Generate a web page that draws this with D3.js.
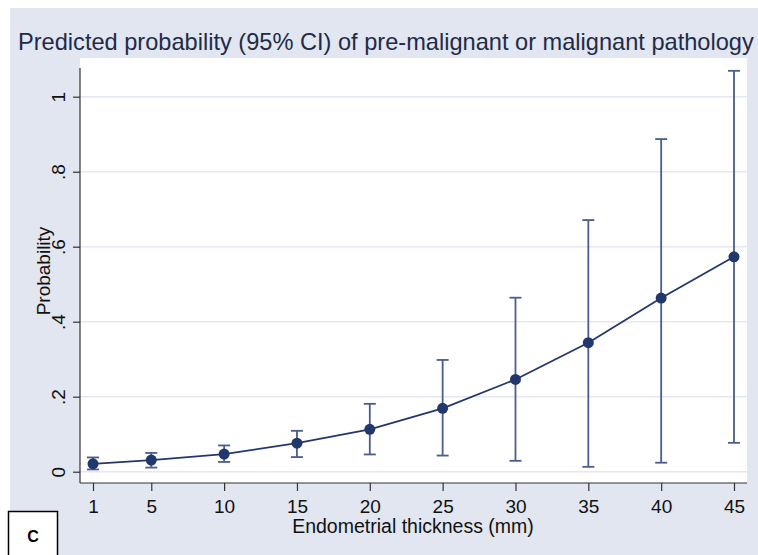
<!DOCTYPE html>
<html>
<head>
<meta charset="utf-8">
<script src="https://cdn.jsdelivr.net/npm/d3@7"></script>
<style>
  body { margin: 0; background: #fff; }
  text { font-family: "Liberation Sans", Arial, sans-serif; }
</style>
</head>
<body>
<svg id="chart"></svg>
<script>
// endometrial thickness (mm)
const thickness = [1, 5, 10, 15, 20, 25, 30, 35, 40, 45];
// predicted probability and 95% CI
const prob  = [0.021, 0.031, 0.047, 0.076, 0.113, 0.169, 0.246, 0.344, 0.463, 0.573];
const lower = [0.006, 0.011, 0.026, 0.039, 0.046, 0.043, 0.029, 0.013, 0.024, 0.077];
const upper = [0.038, 0.050, 0.070, 0.109, 0.181, 0.298, 0.464, 0.671, 0.887, 1.069];
const yTicks = [0, 0.2, 0.4, 0.6, 0.8, 1];
const yTickLabels = ["0", ".2", ".4", ".6", ".8", "1"];

const width = 758, height = 555;
const plot = { left: 80, right: 747, top: 58, bottom: 483 };
const navy = "#22376b";
const ciColor = "#4a5d8c";

const data = thickness.map((t, i) => ({ t, p: prob[i], lo: lower[i], hi: upper[i] }));

const svg = d3.select("#chart")
  .attr("width", width)
  .attr("height", height);

// graph region
svg.append("rect")
  .attr("x", 10).attr("y", 8)
  .attr("width", width - 10).attr("height", height - 8)
  .attr("fill", "#e1e6f0");

// plot region
svg.append("rect")
  .attr("x", plot.left).attr("y", plot.top)
  .attr("width", plot.right - plot.left).attr("height", plot.bottom - plot.top)
  .attr("fill", "#fff");

const x = d3.scaleLinear().domain([1, 45]).range([93, 734]);
const y = d3.scaleLinear().domain([0, 1]).range([471.7, 96.7]);

// gridlines
svg.append("g")
  .selectAll("line")
  .data(yTicks)
  .join("line")
  .attr("x1", plot.left).attr("x2", plot.right)
  .attr("y1", d => y(d)).attr("y2", d => y(d))
  .attr("stroke", "#e4e8f1")
  .attr("stroke-width", 1.5);

// X-Axis
const xAxis = svg.append("g")
  .attr("transform", `translate(0,${plot.bottom})`)
  .call(d3.axisBottom(x).tickValues(thickness).tickSize(8).tickPadding(9).tickSizeOuter(0));
xAxis.select(".domain").remove();
xAxis.selectAll("line").attr("stroke", "#333").attr("stroke-width", 1.2);
xAxis.selectAll("text")
  .attr("fill", "#111")
  .attr("font-size", "19px")
  .attr("font-family", "Liberation Sans, Arial, sans-serif");
svg.append("line")
  .attr("x1", plot.left).attr("x2", plot.right)
  .attr("y1", plot.bottom).attr("y2", plot.bottom)
  .attr("stroke", "#333").attr("stroke-width", 1.2);

// Y-Axis
const yAxis = svg.append("g")
  .attr("transform", `translate(${plot.left},0)`)
  .call(d3.axisLeft(y).tickValues(yTicks).tickFormat((d, i) => yTickLabels[i]).tickSize(7).tickSizeOuter(0));
yAxis.select(".domain").remove();
yAxis.selectAll("line").attr("stroke", "#333").attr("stroke-width", 1.2);
yAxis.selectAll("text")
  .attr("fill", "#111")
  .attr("font-size", "19px")
  .attr("font-family", "Liberation Sans, Arial, sans-serif")
  .attr("x", null).attr("dy", null)
  .attr("text-anchor", "middle")
  .attr("transform", "translate(-15,0) rotate(-90)");
svg.append("line")
  .attr("x1", plot.left).attr("x2", plot.left)
  .attr("y1", 68).attr("y2", plot.bottom)
  .attr("stroke", "#333").attr("stroke-width", 1.2);

// CI bars
const ci = svg.append("g").attr("stroke", ciColor).attr("stroke-width", 1.8);
ci.selectAll(".ci")
  .data(data)
  .join("line")
  .attr("x1", d => x(d.t)).attr("x2", d => x(d.t))
  .attr("y1", d => y(d.lo)).attr("y2", d => y(d.hi));
ci.selectAll(".cap-hi")
  .data(data)
  .join("line")
  .attr("class", "cap-hi")
  .attr("x1", d => x(d.t) - 6).attr("x2", d => x(d.t) + 6)
  .attr("y1", d => y(d.hi)).attr("y2", d => y(d.hi));
ci.selectAll(".cap-lo")
  .data(data)
  .join("line")
  .attr("class", "cap-lo")
  .attr("x1", d => x(d.t) - 6).attr("x2", d => x(d.t) + 6)
  .attr("y1", d => y(d.lo)).attr("y2", d => y(d.lo));

// connecting line
const line = d3.line().x(d => x(d.t)).y(d => y(d.p));
svg.append("path")
  .datum(data)
  .attr("d", line)
  .attr("fill", "none")
  .attr("stroke", navy)
  .attr("stroke-width", 1.8);

svg.selectAll(".dot")
  .data(data)
  .join("circle")
  .attr("class", "dot")
  .attr("cx", d => x(d.t))
  .attr("cy", d => y(d.p))
  .attr("r", 5.5)
  .attr("fill", navy);

// titles
svg.append("text")
  .attr("x", 18).attr("y", 50)
  .attr("font-size", "23.6px")
  .attr("fill", "#1f2b48")
  .text("Predicted probability (95% CI) of pre-malignant or malignant pathology");

svg.append("text")
  .attr("x", 413).attr("y", 533)
  .attr("text-anchor", "middle")
  .attr("font-size", "19.5px")
  .attr("fill", "#111")
  .text("Endometrial thickness (mm)");

svg.append("text")
  .attr("transform", "translate(50,271) rotate(-90)")
  .attr("text-anchor", "middle")
  .attr("font-size", "19px")
  .attr("fill", "#111")
  .text("Probability");

// panel label
svg.append("rect")
  .attr("x", 8.5).attr("y", 511.5)
  .attr("width", 49).attr("height", 50)
  .attr("fill", "#fff")
  .attr("stroke", "#000")
  .attr("stroke-width", 1.5);
svg.append("text")
  .attr("x", 33).attr("y", 542)
  .attr("text-anchor", "middle")
  .attr("font-size", "16px")
  .attr("font-weight", "bold")
  .attr("fill", "#000")
  .text("C");
</script>
</body>
</html>
